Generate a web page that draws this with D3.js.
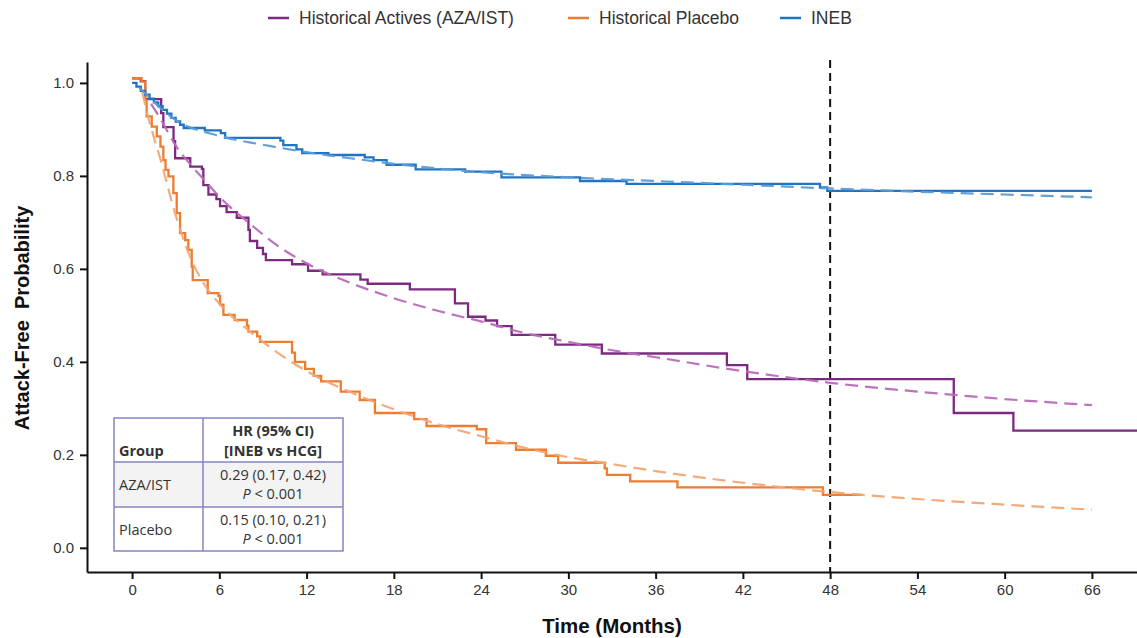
<!DOCTYPE html>
<html>
<head>
<meta charset="utf-8">
<script src="https://cdn.jsdelivr.net/npm/d3@7"></script>
<style>
  body { margin: 0; background: #fff; }
  svg text { font-family: "Liberation Sans", Arial, sans-serif; }
  .tbl { font-family: "Open Sans", "Noto Sans", sans-serif; font-size: 14.5px; fill: #333; }
</style>
</head>
<body>
<div id="chart"></div>
<script>
var svgWidth = 1137;
var svgHeight = 638;

// Kaplan-Meier steps: [month, probability]
var activesKM = [[0,1.01],[0.6,1.004],[0.9,0.965],[2.0,0.935],[2.15,0.905],[2.85,0.875],[2.96,0.838],
  [4.0,0.82],[4.8,0.815],[4.9,0.78],[5.25,0.76],[5.8,0.75],[6.05,0.735],[6.5,0.722],[7.2,0.71],
  [8.0,0.684],[8.1,0.66],[8.6,0.645],[9.0,0.632],[9.2,0.619],[11.0,0.61],[12.1,0.596],[13.1,0.588],
  [15.7,0.577],[16.2,0.568],[19.1,0.556],[22.2,0.526],[23.1,0.497],[24.3,0.489],[25.1,0.477],
  [26.1,0.458],[29.1,0.437],[32.3,0.418],[40.9,0.393],[42.3,0.363],[56.5,0.29],[60.6,0.252],[69.1,0.252]];

var placeboKM = [[0,1.01],[0.65,1.003],[0.9,0.963],[1.0,0.928],[1.35,0.906],[1.7,0.885],[1.95,0.863],
  [2.15,0.834],[2.3,0.813],[2.5,0.799],[2.84,0.763],[3.07,0.72],[3.3,0.677],[3.65,0.662],[3.87,0.641],
  [4.1,0.605],[4.17,0.576],[5.2,0.548],[5.94,0.542],[6.05,0.523],[6.28,0.501],[7.05,0.49],[7.9,0.478],
  [8.0,0.465],[8.6,0.455],[8.8,0.443],[11.0,0.42],[11.2,0.40],[11.9,0.385],[12.5,0.37],[13.0,0.358],
  [14.35,0.336],[15.65,0.318],[16.7,0.29],[19.4,0.277],[20.25,0.262],[23.7,0.255],[24.35,0.225],
  [26.4,0.211],[28.45,0.198],[29.3,0.183],[32.5,0.171],[32.65,0.157],[34.25,0.143],[37.5,0.13],
  [47.5,0.114],[50.2,0.114]];

var inebKM = [[0,1.0],[0.3,0.992],[0.6,0.983],[0.9,0.975],[1.2,0.966],[1.5,0.958],[1.8,0.95],[2.1,0.942],
  [2.4,0.934],[2.7,0.925],[3.0,0.917],[3.3,0.91],[3.55,0.903],[5.0,0.898],[6.1,0.892],[6.4,0.882],
  [10.2,0.876],[10.4,0.866],[11.3,0.857],[11.7,0.849],[13.5,0.845],[16.0,0.84],[16.6,0.834],
  [17.5,0.824],[19.5,0.814],[22.9,0.809],[25.4,0.797],[30.8,0.789],[34.0,0.783],[47.3,0.775],
  [47.8,0.768],[66,0.768]];

// fitted (dashed) curves
var activesFit = [[1.3,0.955],[2,0.92],[3,0.865],[4,0.825],[5,0.79],[6,0.755],[8,0.70],[10,0.65],
  [12,0.612],[15,0.57],[18,0.537],[21,0.51],[24,0.487],[27,0.462],[30,0.443],[33,0.425],[36,0.41],
  [42,0.38],[48,0.355],[54,0.336],[60,0.32],[66,0.307]];
var placeboFit = [[0.7,0.98],[1,0.94],[2,0.83],[3,0.715],[4,0.625],[5,0.565],[6,0.525],[8,0.468],
  [10,0.42],[12,0.38],[15,0.335],[18,0.298],[21,0.266],[24,0.24],[27,0.215],[30,0.195],[33,0.18],
  [36,0.165],[42,0.14],[48,0.12],[54,0.105],[60,0.093],[66,0.082]];
var inebFit = [[0.5,0.99],[3,0.92],[6,0.886],[9,0.867],[12,0.851],[15,0.838],[18,0.826],[21,0.816],
  [24,0.808],[30,0.797],[36,0.789],[42,0.781],[48,0.773],[54,0.766],[60,0.76],[66,0.754]];

var xTicks = [0, 6, 12, 18, 24, 30, 36, 42, 48, 54, 60, 66];
var yTicks = [0, 0.2, 0.4, 0.6, 0.8, 1.0];
var legendNames = ["Historical Actives (AZA/IST)", "Historical Placebo", "INEB"];
var tableHeader = ["Group", "HR (95% CI)", "[INEB vs HCG]"];
var tableGroups = ["AZA/IST", "Placebo"];
var tableHR = ["0.29 (0.17, 0.42)", "0.15 (0.10, 0.21)"];
var tableP = ["< 0.001", "< 0.001"];

var colors = ["#7b2a80", "#ed7d31", "#1f74c4"];
var fitColors = ["#b86cb8", "#f2a673", "#5a9bd5"];

var svg = d3.select("#chart").append("svg")
  .attr("width", svgWidth)
  .attr("height", svgHeight);

var x = d3.scaleLinear().domain([-3.1, 69.1]).range([87, 1137]);
var y = d3.scaleLinear().domain([-0.052, 1.045]).range([572, 62]);

// axes
var xAxis = svg.append("g")
  .attr("transform", "translate(0,572)")
  .call(d3.axisBottom(x).tickValues(xTicks).tickSize(7).tickSizeOuter(0).tickPadding(5));
var yAxis = svg.append("g")
  .attr("transform", "translate(87,0)")
  .call(d3.axisLeft(y).tickValues(yTicks).tickFormat(d3.format(".1f")).tickSize(7).tickSizeOuter(0).tickPadding(6));

[xAxis, yAxis].forEach(function(a) {
  a.select(".domain").attr("stroke", "#111").attr("stroke-width", 2);
  a.selectAll(".tick line").attr("stroke", "#111").attr("stroke-width", 2);
  a.selectAll(".tick text").attr("font-size", 15).attr("fill", "#333")
    .style("font-family", "'Liberation Sans', Arial, sans-serif");
});

svg.append("text")
  .attr("x", 612).attr("y", 633)
  .attr("text-anchor", "middle")
  .attr("font-size", 20.5).attr("font-weight", "bold").attr("fill", "#111")
  .text("Time (Months)");

svg.append("text")
  .attr("transform", "translate(29,318) rotate(-90)")
  .attr("text-anchor", "middle")
  .attr("font-size", 20).attr("font-weight", "bold").attr("fill", "#111")
  .attr("xml:space", "preserve")
  .text("Attack-Free  Probability");

// 48-month reference line
svg.append("line")
  .attr("x1", x(48)).attr("x2", x(48))
  .attr("y1", 60).attr("y2", 572)
  .attr("stroke", "#111").attr("stroke-width", 2)
  .attr("stroke-dasharray", "8,5");

var stepLine = d3.line().x(d => x(d[0])).y(d => y(d[1])).curve(d3.curveStepAfter);
var smoothLine = d3.line().x(d => x(d[0])).y(d => y(d[1])).curve(d3.curveMonotoneX);

var kmSeries = [activesKM, placeboKM, inebKM];
var fitSeries = [activesFit, placeboFit, inebFit];

kmSeries.forEach(function(s, i) {
  svg.append("path")
    .datum(s)
    .attr("d", stepLine)
    .attr("fill", "none")
    .attr("stroke", colors[i])
    .attr("stroke-width", 2.3);
});

fitSeries.forEach(function(s, i) {
  svg.append("path")
    .datum(s)
    .attr("d", smoothLine)
    .attr("fill", "none")
    .attr("stroke", fitColors[i])
    .attr("stroke-width", 2.2)
    .attr("stroke-dasharray", "13,7")
    .attr("opacity", 0.95);
});

// legend
var legendX = [268, 568, 780];
legendNames.forEach(function(name, i) {
  svg.append("line")
    .attr("x1", legendX[i]).attr("x2", legendX[i] + 21)
    .attr("y1", 18).attr("y2", 18)
    .attr("stroke", colors[i]).attr("stroke-width", 2.5);
  svg.append("text")
    .attr("x", legendX[i] + 31).attr("y", 24)
    .attr("font-size", 17.5).attr("fill", "#333")
    .text(name);
});

// hazard ratio table
var tbl = svg.append("g");
var tx0 = 114, tx1 = 203, tx2 = 343;
var rowY = [418, 462, 507, 551];
tbl.append("rect")
  .attr("x", tx0).attr("y", rowY[1])
  .attr("width", tx2 - tx0).attr("height", rowY[2] - rowY[1])
  .attr("fill", "#f3f3f3");
tbl.append("rect")
  .attr("x", tx0).attr("y", rowY[0])
  .attr("width", tx2 - tx0).attr("height", rowY[3] - rowY[0])
  .attr("fill", "none").attr("stroke", "#8585c2").attr("stroke-width", 1.5);
tbl.append("line").attr("x1", tx1).attr("x2", tx1).attr("y1", rowY[0]).attr("y2", rowY[3])
  .attr("stroke", "#8585c2").attr("stroke-width", 1.5);
[rowY[1], rowY[2]].forEach(function(yy) {
  tbl.append("line").attr("x1", tx0).attr("x2", tx2).attr("y1", yy).attr("y2", yy)
    .attr("stroke", "#8585c2").attr("stroke-width", 1.5);
});

var cx = (tx1 + tx2) / 2;
tbl.append("text").attr("class", "tbl").attr("x", tx0 + 5).attr("y", 456)
  .attr("font-weight", "bold").attr("fill", "#222").text(tableHeader[0]);
tbl.append("text").attr("class", "tbl").attr("x", cx).attr("y", 436).attr("text-anchor", "middle")
  .attr("font-weight", "bold").attr("fill", "#222").text(tableHeader[1]);
tbl.append("text").attr("class", "tbl").attr("x", cx).attr("y", 456).attr("text-anchor", "middle")
  .attr("font-weight", "bold").attr("fill", "#222").text(tableHeader[2]);

tableGroups.forEach(function(g, i) {
  var top = rowY[i + 1];
  tbl.append("text").attr("class", "tbl").attr("x", tx0 + 5).attr("y", top + 28).text(g);
  tbl.append("text").attr("class", "tbl").attr("x", cx).attr("y", top + 18)
    .attr("text-anchor", "middle").text(tableHR[i]);
  var pt = tbl.append("text").attr("class", "tbl").attr("x", cx).attr("y", top + 37)
    .attr("text-anchor", "middle");
  pt.append("tspan").attr("font-style", "italic").text("P");
  pt.append("tspan").text(" " + tableP[i]);
});
</script>
</body>
</html>
